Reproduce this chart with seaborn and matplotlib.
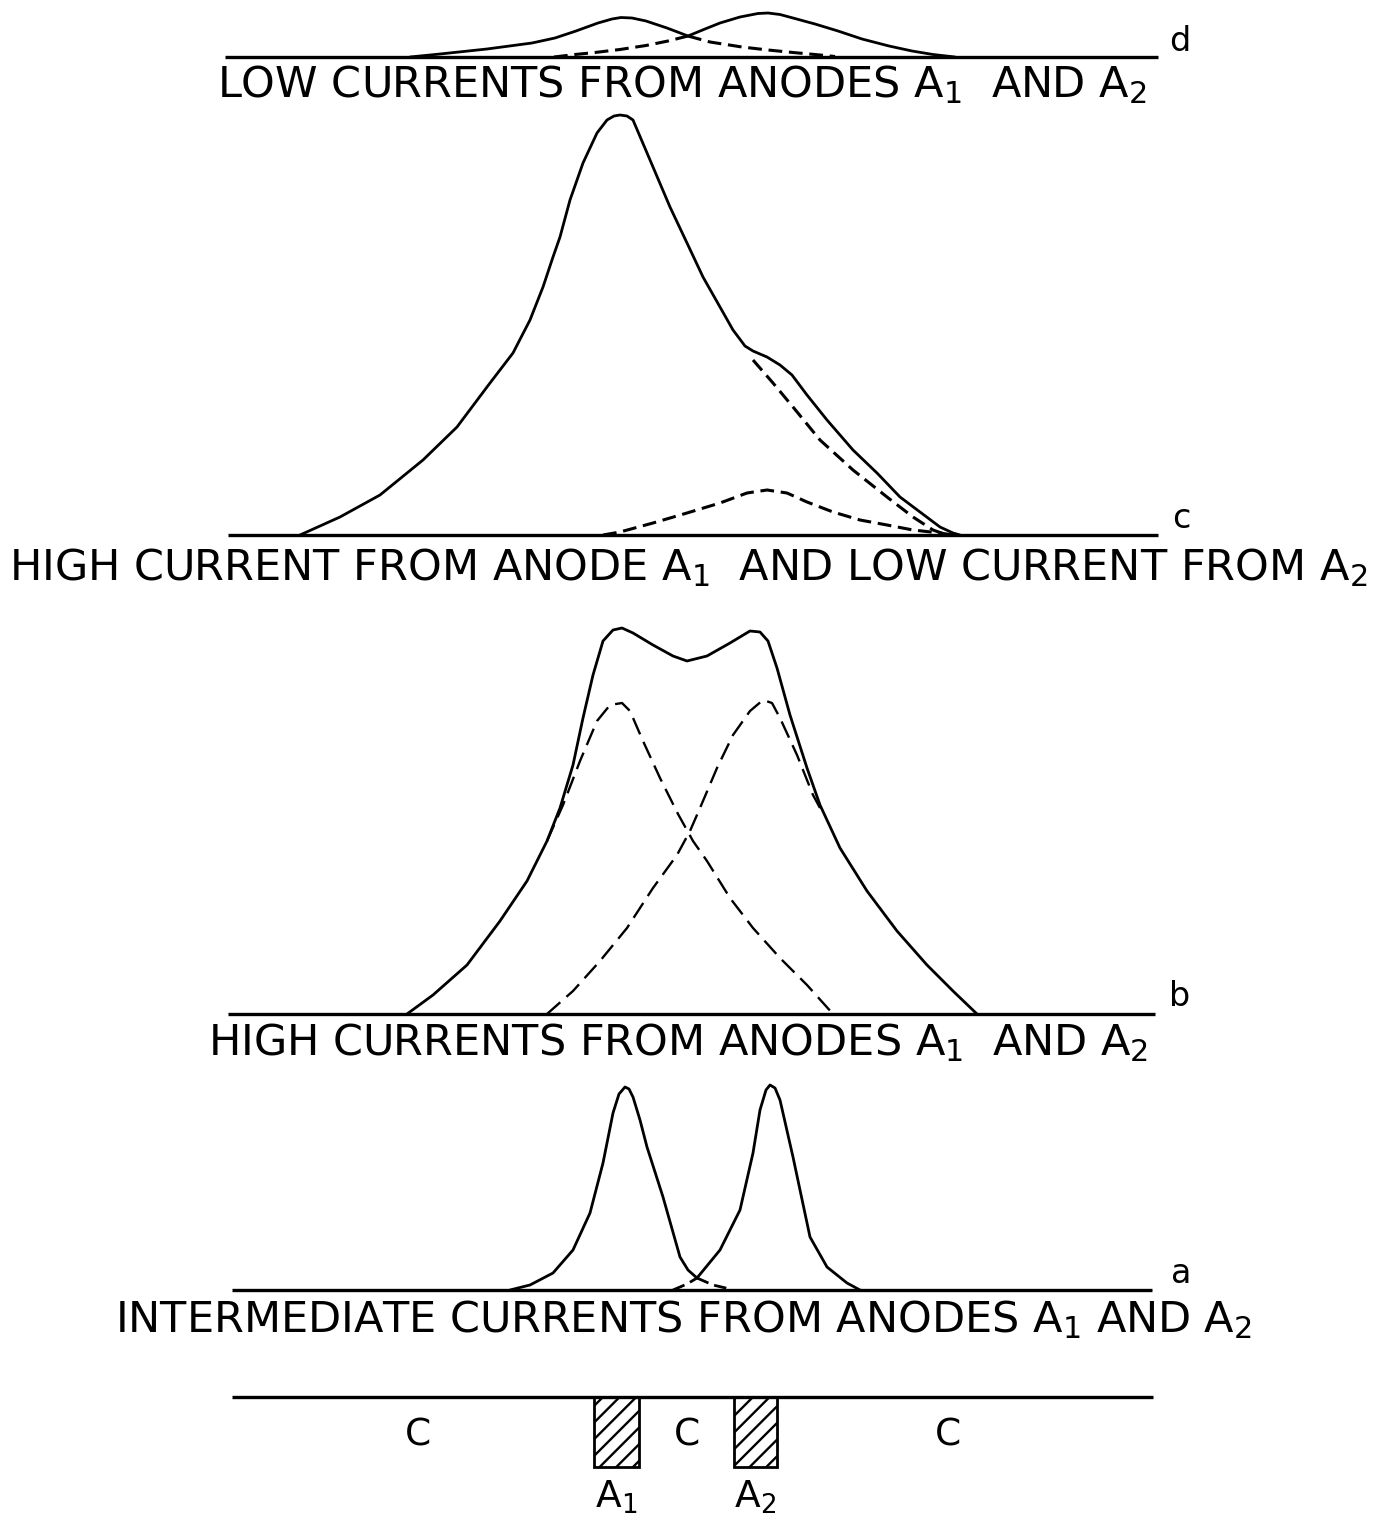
import numpy as np
import pandas as pd
import seaborn as sns
import matplotlib.pyplot as plt

# ---------------------------------------------------------------------------
# Current-density profiles along the cathode (position in drawing units,
# height of the profile above the panel's base line)
# ---------------------------------------------------------------------------

# d: low currents from anodes A1 and A2
d_total_x = [410, 440, 487, 532, 555, 576, 598, 612, 621, 632, 646, 667, 688,
             705, 720, 740, 758, 768, 780, 793, 815, 838, 862, 889, 912, 933, 955]
d_total_h = [0, 3, 8, 14, 19, 26, 34, 38, 39.5, 39, 36, 29, 21,
             28, 34, 40, 43.5, 44, 42.5, 39, 33, 26, 18, 11, 6, 2.5, 0]
d_a2_x = [554, 575, 595, 620, 646, 668, 688]
d_a2_h = [0, 2.5, 4.5, 7.5, 11.5, 16, 21]
d_a1_x = [688, 710, 742, 768, 793, 815, 835]
d_a1_h = [21, 15, 10, 7, 4.5, 2.5, 0.5]

# c: high current from A1, low current from A2
c_total_x = [300, 340, 380, 423, 457, 490, 513, 530, 543, 553, 560, 570, 583,
             597, 607, 614, 620, 627, 633, 653, 670, 687, 703, 720, 733, 745,
             753, 767, 780, 792, 807, 827, 853, 877, 900, 920, 940, 953, 960]
c_total_h = [0, 18, 40, 75, 108, 152, 182, 215, 248, 278, 298, 335, 372,
             402, 415, 419, 420, 419, 415, 368, 328, 292, 258, 228, 205, 189,
             184, 178, 170, 160, 140, 115, 85, 62, 38, 23, 8, 2, 0]
c_a1_x = [753, 773, 793, 820, 853, 887, 913, 933, 947]
c_a1_h = [175, 152, 128, 95, 65, 38, 18, 5, 0]
c_a2_x = [603, 620, 653, 687, 720, 747, 767, 787, 807, 833, 860, 887, 913,
          940, 953]
c_a2_h = [0, 3, 12, 22, 32, 42, 45, 42, 33, 23, 15, 10, 5, 2, 0]

# b: high currents from anodes A1 and A2
b_total_x = [407, 433, 467, 500, 527, 547, 560, 573, 583, 593, 603, 613, 622,
             633, 653, 673, 687, 707, 730, 750, 760, 768, 777, 790, 807, 820,
             840, 867, 897, 927, 953, 977]
b_total_h = [0, 19, 49, 93, 133, 173, 206, 249, 296, 339, 373, 384, 386,
             381, 369, 358, 353, 358, 371, 383, 382, 373, 346, 299, 246, 209,
             166, 123, 83, 49, 23, 0]
b_a1_x = [547, 563, 580, 597, 610, 622, 630, 643, 660, 678, 693, 707, 730,
          753, 780, 807, 833]
b_a1_h = [173, 209, 253, 293, 309, 311, 303, 273, 236, 200, 173, 153, 116,
          86, 56, 29, 0]
b_a2_x = [547, 573, 600, 627, 653, 677, 690, 700, 717, 733, 750, 763, 772,
          780, 797, 813, 820]
b_a2_h = [0, 23, 53, 86, 126, 159, 183, 206, 246, 279, 303, 314, 311,
          296, 259, 219, 206]

# a: intermediate currents from anodes A1 and A2
a_a1_x = [510, 530, 553, 573, 590, 603, 613, 619, 625, 629, 633, 640, 647,
          663, 680, 688, 697]
a_a1_h = [0, 5, 17, 40, 77, 127, 177, 196, 203, 201, 193, 170, 143,
          93, 33, 20, 12]
a_a1_tail_x = [697, 713, 730]
a_a1_tail_h = [12, 5, 1]
a_a2_lead_x = [673, 687, 697]
a_a2_lead_h = [0, 6, 12]
a_a2_x = [697, 720, 740, 753, 760, 766, 770, 775, 780, 793, 810, 827, 847, 860]
a_a2_h = [12, 40, 80, 137, 180, 200, 205, 202, 190, 133, 53, 23, 7, 0]

# electrode arrangement
cathode_labels = ["C", "C", "C"]
cathode_label_x = [418, 687, 948]
anode_labels = ["A$_1$", "A$_2$"]
anode_left = [594, 734]
anode_right = [639, 777]

panel_letters = ["d", "c", "b", "a"]
panel_titles = [
    "LOW CURRENTS FROM ANODES A$_1$  AND A$_2$",
    "HIGH CURRENT FROM ANODE A$_1$  AND LOW CURRENT FROM A$_2$",
    "HIGH CURRENTS FROM ANODES A$_1$  AND A$_2$",
    "INTERMEDIATE CURRENTS FROM ANODES A$_1$ AND A$_2$",
]

# ---------------------------------------------------------------------------
sns.set_theme(style="white")
plt.rcParams["font.family"] = ["DejaVu Sans"]
plt.rcParams["mathtext.fontset"] = "dejavusans"
plt.rcParams["hatch.linewidth"] = 1.7

fig = plt.figure(figsize=(13.76, 15.21), dpi=100)
ax = fig.add_axes([0, 0, 1, 1])
ax.set_xlim(0, 1376)
ax.set_ylim(1521, 0)
ax.axis("off")

INK = "black"
SOLID_LW = 2.0
BASE_LW = 2.4
SHORT_DASH = (0, (4.5, 2.2))
LONG_DASH = (0, (7.5, 3.5))


def profile(x, h, base, lw=SOLID_LW, ls="-"):
    df = pd.DataFrame({"pos": x, "y": base - np.asarray(h, dtype=float)})
    sns.lineplot(data=df, x="pos", y="y", ax=ax, color=INK, lw=lw,
                 linestyle=ls, estimator=None, sort=False,
                 solid_capstyle="round", solid_joinstyle="round",
                 dash_capstyle="butt")


# panel geometry: base line y, base line extent, title position
base_y = [57, 535, 1014, 1290]
base_x0 = [225, 228, 228, 232]
base_x1 = [1158, 1158, 1155, 1152]
title_xy = [(682, 97), (688, 580), (678, 1055), (683, 1332)]
letter_xy = [(1180, 57), (1181, 534), (1180, 1012), (1181, 1289)]

for by, x0, x1 in zip(base_y, base_x0, base_x1):
    ax.plot([x0, x1], [by, by], color=INK, lw=BASE_LW, solid_capstyle="butt")

# d
profile(d_total_x, d_total_h, base_y[0])
profile(d_a2_x, d_a2_h, base_y[0], lw=2.2, ls=SHORT_DASH)
profile(d_a1_x, d_a1_h, base_y[0], lw=2.2, ls=SHORT_DASH)
# c
profile(c_total_x, c_total_h, base_y[1])
profile(c_a1_x, c_a1_h, base_y[1], lw=2.2, ls=SHORT_DASH)
profile(c_a2_x, c_a2_h, base_y[1], lw=2.2, ls=SHORT_DASH)
# b
profile(b_total_x, b_total_h, base_y[2])
profile(b_a1_x, b_a1_h, base_y[2], lw=1.7, ls=LONG_DASH)
profile(b_a2_x, b_a2_h, base_y[2], lw=1.7, ls=LONG_DASH)
# a
profile(a_a1_x, a_a1_h, base_y[3])
profile(a_a2_x, a_a2_h, base_y[3])
profile(a_a1_tail_x, a_a1_tail_h, base_y[3], lw=2.0, ls=SHORT_DASH)
profile(a_a2_lead_x, a_a2_lead_h, base_y[3], lw=2.0, ls=SHORT_DASH)

for (tx, ty), title in zip(title_xy, panel_titles):
    ax.text(tx, ty, title, ha="center", va="baseline", fontsize=31,
            color=INK)
for (lx, ly), letter in zip(letter_xy, panel_letters):
    ax.text(lx, ly - 6, letter, ha="center", va="baseline", fontsize=24,
            color=INK)

# electrode arrangement: cathode line with two recessed hatched anodes
elec_y = 1397
ax.plot([232, 1153], [elec_y, elec_y], color=INK, lw=BASE_LW,
        solid_capstyle="butt")
widths = [r - l for l, r in zip(anode_left, anode_right)]
centers = [(l + r) / 2 for l, r in zip(anode_left, anode_right)]
ax.bar(centers, [70, 70], width=widths, bottom=elec_y, color="white",
       edgecolor=INK, linewidth=2.0, hatch="//")
for cx, lab in zip(cathode_label_x, cathode_labels):
    ax.text(cx, 1446, lab, ha="center", va="baseline", fontsize=27, color=INK)
for cx, lab in zip(centers, anode_labels):
    ax.text(cx, 1508, lab, ha="center", va="baseline", fontsize=27, color=INK)

fig.savefig("out.png", dpi=100, facecolor="white")
